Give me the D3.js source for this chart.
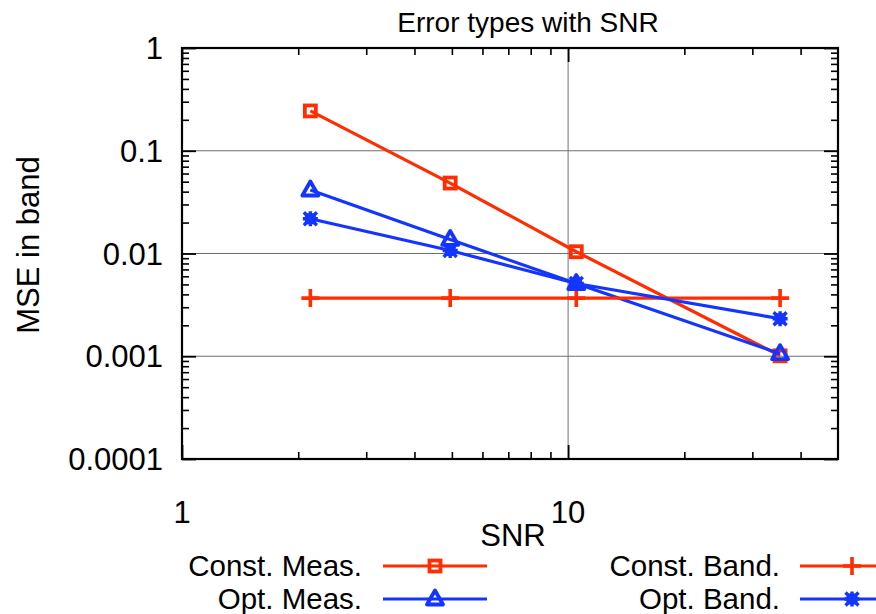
<!DOCTYPE html>
<html><head><meta charset="utf-8">
<script src="https://cdn.jsdelivr.net/npm/d3@7"></script>
<style>
html,body{margin:0;padding:0;background:#fff;}
svg{display:block;font-family:"Liberation Sans",Arial,Helvetica,sans-serif;}
</style></head>
<body>
<script>
// ---- data ----
const title = "Error types with SNR";
const xLabel = "SNR";
const yLabel = "MSE in band";
const snr = [2.15, 4.95, 10.5, 35.4];
const constMeas = [0.244, 0.0485, 0.0104, 0.00101];
const optMeas = [0.0415, 0.0137, 0.0051, 0.00106];
const constBand = [0.00368, 0.00368, 0.00368, 0.00368];
const optBand = [0.0218, 0.0107, 0.0051, 0.00232];
const xTicks = [1, 10];
const yTicks = [0.0001, 0.001, 0.01, 0.1, 1];
const yTickLabels = ["0.0001", "0.001", "0.01", "0.1", "1"];
const seriesNames = ["Const. Meas.", "Opt. Meas.", "Const. Band.", "Opt. Band."];

const W = 876, H = 614;
const m = {left:182, right:838, top:48, bottom:459};
const RED = "#ff2d00", BLUE = "#1434ff";
const FS = 31, LFS = 29.5;

const svg = d3.select("body").append("svg").attr("width", W).attr("height", H);
const x = d3.scaleLog().domain([1, 50]).range([m.left, m.right]);
const y = d3.scaleLog().domain([0.0001, 1]).range([m.bottom, m.top]);

// grid
const g = svg.append("g");
xTicks.filter(v => v > 1 && v < 50).forEach(v => {
  g.append("line").attr("x1", x(v)).attr("x2", x(v)).attr("y1", m.top).attr("y2", m.bottom)
    .attr("stroke", "#8a8a8a").attr("stroke-width", 1.2);
});
yTicks.filter(v => v > 0.0001 && v < 1).forEach(v => {
  g.append("line").attr("x1", m.left).attr("x2", m.right).attr("y1", y(v)).attr("y2", y(v))
    .attr("stroke", "#6e6e6e").attr("stroke-width", 1.2);
});

// minor ticks
const xMinor = [];
[1, 10].forEach(d => { for (let k = 2; k <= 9; k++) { const v = d * k; if (v < 50) xMinor.push(v); } });
const yMinor = [];
[0.0001, 0.001, 0.01, 0.1].forEach(d => { for (let k = 2; k <= 9; k++) yMinor.push(d * k); });

const MAJ = 14, MIN = 7;
function axisTicks(orient) {
  const horiz = orient === "bottom" || orient === "top";
  const pos = {bottom: m.bottom, top: m.top, left: m.left, right: m.right}[orient];
  const mk = () => ({bottom: d3.axisBottom(x), top: d3.axisTop(x), left: d3.axisLeft(y), right: d3.axisRight(y)}[orient]);
  const tf = horiz ? `translate(0,${pos})` : `translate(${pos},0)`;
  const grp = svg.append("g").attr("transform", tf)
    .call(mk().tickValues(horiz ? xTicks : yTicks).tickSize(-MAJ).tickFormat(""));
  grp.select(".domain").remove();
  grp.selectAll("line").attr("stroke", "#000").attr("stroke-width", 1.8);
  const mg = svg.append("g").attr("transform", tf)
    .call(mk().tickValues(horiz ? xMinor : yMinor).tickSize(-MIN).tickFormat(""));
  mg.select(".domain").remove();
  mg.selectAll("line").attr("stroke", "#000").attr("stroke-width", 1.6);
}
["bottom", "top", "left", "right"].forEach(axisTicks);

// border
svg.append("rect").attr("x", m.left).attr("y", m.top).attr("width", m.right - m.left)
  .attr("height", m.bottom - m.top).attr("fill", "none").attr("stroke", "#000").attr("stroke-width", 2.2);

// tick labels
svg.append("g").selectAll("text").data(xTicks).join("text")
  .attr("x", d => x(d)).attr("y", 523).attr("text-anchor", "middle")
  .attr("font-size", FS).text(d => d);
svg.append("g").selectAll("text").data(yTicks).join("text")
  .attr("x", 163).attr("y", d => y(d) + 11).attr("text-anchor", "end")
  .attr("font-size", FS).text((d, i) => yTickLabels[i]);

// titles
svg.append("text").attr("x", 528).attr("y", 32).attr("text-anchor", "middle")
  .attr("font-size", 28).text(title);
svg.append("text").attr("x", 513).attr("y", 546).attr("text-anchor", "middle")
  .attr("font-size", FS).text(xLabel);
svg.append("text").attr("transform", `translate(39,245) rotate(-90)`)
  .attr("text-anchor", "middle").attr("font-size", FS).text(yLabel);

// markers
function marker(sel, type, color, cx, cy) {
  const s = sel.append("g").attr("transform", `translate(${cx},${cy})`);
  if (type === "square") {
    s.append("rect").attr("x", -5.5).attr("y", -5.5).attr("width", 11).attr("height", 11)
      .attr("fill", "none").attr("stroke", color).attr("stroke-width", 3.8);
  } else if (type === "triangle") {
    s.append("path").attr("d", "M0,-8.5L8,5.5L-8,5.5Z").attr("fill", "none")
      .attr("stroke", color).attr("stroke-width", 3.8).attr("stroke-linejoin", "round");
  } else if (type === "plus") {
    s.append("path").attr("d", "M-9,0H9M0,-9V9").attr("stroke", color).attr("stroke-width", 3.6);
  } else if (type === "star") {
    s.append("path").attr("d", "M-7.5,0H7.5M0,-7.5V7.5M-6.5,-6.5L6.5,6.5M-6.5,6.5L6.5,-6.5").attr("stroke", color)
      .attr("stroke-width", 3.4);
    s.append("rect").attr("x", -5.5).attr("y", -5.5).attr("width", 11).attr("height", 11).attr("fill", color);
  }
}

const series = [
  {vals: constMeas, color: RED, type: "square"},
  {vals: optMeas, color: BLUE, type: "triangle"},
  {vals: constBand, color: RED, type: "plus"},
  {vals: optBand, color: BLUE, type: "star"}
];
const line = d3.line().x(d => x(d[0])).y(d => y(d[1]));
const dg = svg.append("g");
series.forEach(s => {
  const pts = snr.map((v, i) => [v, s.vals[i]]);
  dg.append("path").attr("d", line(pts)).attr("fill", "none").attr("stroke", s.color)
    .attr("stroke-width", 3.2);
  pts.forEach(p => marker(dg, s.type, s.color, x(p[0]), y(p[1])));
});

// legend
const legPos = [
  {tx: 362, lx1: 383, lx2: 487, mx: 435, y: 566},
  {tx: 362, lx1: 383, lx2: 487, mx: 435, y: 599},
  {tx: 780, lx1: 800, lx2: 904, mx: 852, y: 566},
  {tx: 780, lx1: 800, lx2: 904, mx: 852, y: 599}
];
series.forEach((s, i) => {
  const p = legPos[i];
  svg.append("text").attr("x", p.tx).attr("y", p.y + 10).attr("text-anchor", "end")
    .attr("font-size", LFS).text(seriesNames[i]);
  svg.append("line").attr("x1", p.lx1).attr("x2", p.lx2).attr("y1", p.y).attr("y2", p.y)
    .attr("stroke", s.color).attr("stroke-width", 3.2);
  marker(svg, s.type, s.color, p.mx, p.y);
});
</script>
</body></html>
